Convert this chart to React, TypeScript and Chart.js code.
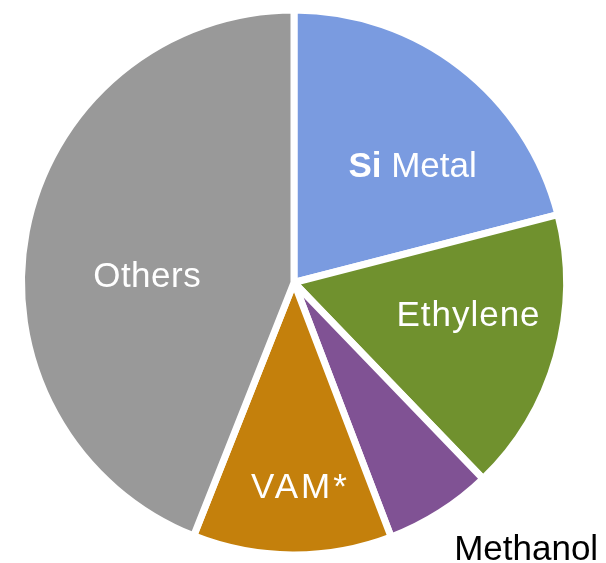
import React, { useEffect, useRef } from "react";
import { Chart, registerables } from "chart.js";

Chart.register(...registerables);

// ---- data ----
const categories = ["Si Metal", "Ethylene", "Methanol", "VAM*", "Others"];
const shares = [21.0, 16.8, 6.4, 11.8, 44.0];
const sliceColors = ["#7A9BE0", "#70912E", "#805294", "#C4800C", "#999999"];

// ---- label placement (polar, relative to pie centre) ----
const labelAngleDeg = [-41.6, 14.0, 50.1, 88.7, 178.1];
const labelRadiusFrac = [0.582, 0.658, 1.328, 0.79, 0.54];
const labelColors = ["#FFFFFF", "#FFFFFF", "#000000", "#FFFFFF", "#FFFFFF"];
const labelSpacingPx = [0, 1, 0, 3, 0.5];

const FONT_FAMILY = '"Liberation Sans", Arial, Helvetica, sans-serif';
const FONT_SIZE = 35;

const labelPlugin = {
  id: "sliceLabels",
  afterDatasetsDraw(chart: any) {
    const ctx = chart.ctx as any;
    const meta = chart.getDatasetMeta(0);
    ctx.save();
    ctx.textBaseline = "alphabetic";
    ctx.textAlign = "left";
    meta.data.forEach((arc: any, i: number) => {
      const { x, y, outerRadius } = arc.getProps(["x", "y", "outerRadius"], true);
      const a = (labelAngleDeg[i] * Math.PI) / 180;
      const px = x + Math.cos(a) * outerRadius * labelRadiusFrac[i];
      const py = y + Math.sin(a) * outerRadius * labelRadiusFrac[i];
      ctx.fillStyle = labelColors[i];
      ctx.letterSpacing = `${labelSpacingPx[i]}px`;
      const name = categories[i];
      if (name.startsWith("Si ")) {
        const boldPart = "Si";
        const rest = name.slice(2);
        ctx.font = `bold ${FONT_SIZE}px ${FONT_FAMILY}`;
        const w1 = ctx.measureText(boldPart).width;
        ctx.font = `${FONT_SIZE}px ${FONT_FAMILY}`;
        const w2 = ctx.measureText(rest).width;
        const start = px - (w1 + w2) / 2;
        ctx.font = `bold ${FONT_SIZE}px ${FONT_FAMILY}`;
        ctx.fillText(boldPart, start, py);
        ctx.font = `${FONT_SIZE}px ${FONT_FAMILY}`;
        ctx.fillText(rest, start + w1, py);
      } else {
        ctx.font = `${FONT_SIZE}px ${FONT_FAMILY}`;
        const w = ctx.measureText(name).width - labelSpacingPx[i];
        ctx.fillText(name, px - w / 2, py);
      }
    });
    ctx.restore();
  },
};

export default function App() {
  const canvasRef = useRef<HTMLCanvasElement | null>(null);

  useEffect(() => {
    document.body.style.margin = "0";
    const canvas = canvasRef.current;
    if (!canvas) return;
    const chart = new Chart(canvas, {
      type: "pie",
      data: {
        labels: categories,
        datasets: [
          {
            data: shares,
            backgroundColor: sliceColors,
            borderColor: "#FFFFFF",
            borderWidth: 7,
            hoverOffset: 0,
          },
        ],
      },
      options: {
        responsive: false,
        animation: false,
        devicePixelRatio: 1,
        radius: 272.5,
        layout: { padding: { left: 0, right: 18, top: 2, bottom: 0 } },
        plugins: {
          legend: { display: false },
          tooltip: { enabled: false },
          title: { display: false },
        },
        events: [],
      } as any,
      plugins: [labelPlugin],
    });
    return () => chart.destroy();
  }, []);

  return (
    <div style={{ position: "fixed", left: 0, top: 0, width: 606, height: 563, background: "#FFFFFF" }}>
      <canvas ref={canvasRef} width={606} height={563} style={{ display: "block" }} />
    </div>
  );
}
